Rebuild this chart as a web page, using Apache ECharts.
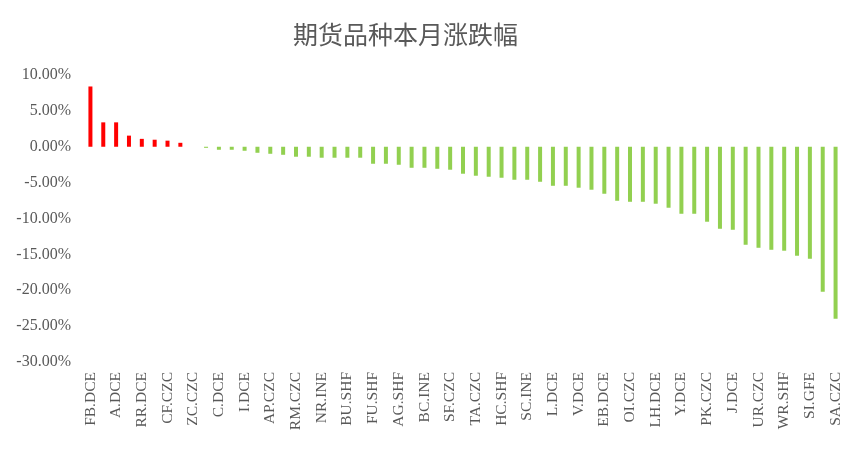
<!DOCTYPE html>
<html>
<head>
<meta charset="utf-8">
<script src="https://cdn.jsdelivr.net/npm/echarts@6/dist/echarts.min.js"></script>
<style>
  html, body { margin: 0; padding: 0; background: #fff; }
  #chart { width: 865px; height: 449px; }
</style>
</head>
<body>
<div id="chart"></div>
<script>
// categories (every other label shown in the original)
const categories = [
  "FB.DCE", "BB.DCE", "A.DCE", "JD.DCE", "RR.DCE", "CS.DCE", "CF.CZC", "SR.CZC",
  "ZC.CZC", "PM.CZC", "C.DCE", "CJ.CZC", "I.DCE", "WH.CZC", "AP.CZC", "RI.CZC",
  "RM.CZC", "AU.SHF", "NR.INE", "B.DCE", "BU.SHF", "JR.CZC", "FU.SHF", "LR.CZC",
  "AG.SHF", "M.DCE", "BC.INE", "CU.SHF", "SF.CZC", "PP.DCE", "TA.CZC", "SP.SHF",
  "HC.SHF", "ZN.SHF", "SC.INE", "RU.SHF", "L.DCE", "AL.SHF", "V.DCE", "PB.SHF",
  "EB.DCE", "SN.SHF", "OI.CZC", "NI.SHF", "LH.DCE", "P.DCE", "Y.DCE", "SS.SHF",
  "PK.CZC", "MA.CZC", "J.DCE", "EG.DCE", "UR.CZC", "RB.SHF", "WR.SHF", "FG.CZC",
  "SI.GFE", "JM.DCE", "SA.CZC"
];

// monthly change, in percent
const changes = [
  8.4, 3.4, 3.4, 1.55, 1.1, 0.98, 0.85, 0.55,
  0, -0.15, -0.42, -0.42, -0.56, -0.84, -0.98, -1.12,
  -1.39, -1.39, -1.53, -1.53, -1.53, -1.53, -2.37, -2.37,
  -2.51, -2.93, -2.93, -3.07, -3.2, -3.76, -4.04, -4.18,
  -4.32, -4.6, -4.6, -4.88, -5.44, -5.44, -5.71, -5.99,
  -6.55, -7.53, -7.67, -7.67, -7.94, -8.5, -9.34, -9.34,
  -10.45, -11.43, -11.57, -13.66, -14.08, -14.36, -14.49, -15.19,
  -15.61, -20.2, -23.97
];

const yMin = -30;
const yMax = 10;
const yStep = 5;

const upColor = "#FF0000";
const downColor = "#92D050";
const textColor = "#595959";
const serif = "'Liberation Serif', 'Times New Roman', serif";

const chart = echarts.init(document.getElementById("chart"));

chart.setOption({
  animation: false,
  backgroundColor: "#fff",
  title: {
    text: "期货品种本月涨跌幅",
    left: 288,
    top: 17,
    textStyle: {
      color: textColor,
      fontSize: 25,
      fontWeight: "normal",
      fontFamily: "'Noto Sans CJK SC', serif",
    },
  },
  grid: {
    left: 84,
    right: 23,
    top: 75,
    bottom: 87,
  },
  xAxis: {
    type: "category",
    data: categories,
    axisLine: { show: false, onZero: false },
    axisTick: { show: false },
    axisLabel: {
      interval: 1,
      rotate: 90,
      margin: 10,
      color: textColor,
      fontSize: 15.5,
      fontFamily: serif,
    },
  },
  yAxis: {
    type: "value",
    min: yMin,
    max: yMax,
    interval: yStep,
    splitLine: { show: false },
    axisLine: { show: false },
    axisTick: { show: false },
    axisLabel: {
      margin: 13,
      color: textColor,
      fontSize: 16,
      fontFamily: serif,
      formatter: (v) => v.toFixed(2) + "%",
    },
  },
  series: [
    {
      type: "bar",
      barWidth: 4,
      data: changes.map((v) => ({
        value: v,
        itemStyle: { color: v > 0 ? upColor : downColor },
      })),
    },
  ],
});
</script>
</body>
</html>
